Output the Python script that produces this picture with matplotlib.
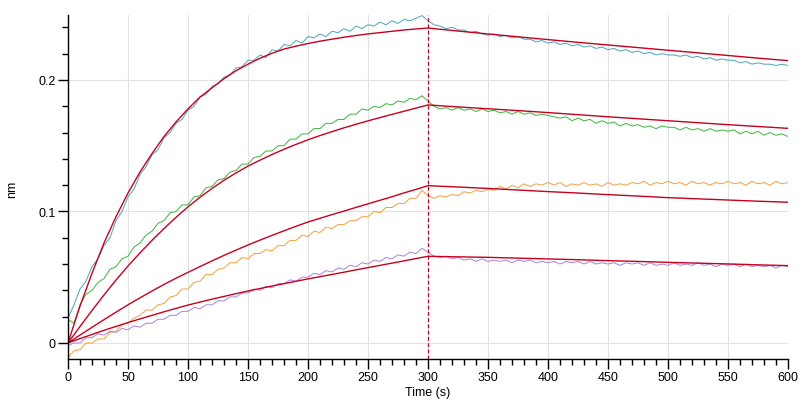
import numpy as np
import matplotlib.pyplot as plt
from matplotlib.ticker import MultipleLocator, FixedLocator

# --- trace data (nm), sampled every 5 s from 0 to 600 s ---
time = np.arange(0, 601, 5)

cyan = [0.019, 0.029, 0.041, 0.047, 0.058, 0.064, 0.074, 0.080, 0.093, 0.100,
        0.111, 0.117, 0.128, 0.134, 0.143, 0.147, 0.156, 0.160, 0.167, 0.170,
        0.177, 0.180, 0.187, 0.189, 0.195, 0.197, 0.202, 0.204, 0.209, 0.210,
        0.215, 0.215, 0.219, 0.217, 0.223, 0.222, 0.227, 0.226, 0.230, 0.228,
        0.233, 0.232, 0.235, 0.233, 0.237, 0.236, 0.239, 0.237, 0.241, 0.239,
        0.242, 0.241, 0.244, 0.242, 0.245, 0.243, 0.246, 0.245, 0.247, 0.249,
        0.245,
        0.242, 0.241, 0.239, 0.240, 0.238, 0.238, 0.236, 0.237, 0.235, 0.234,
        0.235, 0.233, 0.234, 0.232, 0.233, 0.231, 0.231, 0.229, 0.230, 0.228,
        0.229, 0.227, 0.228, 0.226, 0.227, 0.225, 0.226, 0.224, 0.225, 0.223,
        0.224, 0.222, 0.223, 0.221, 0.222, 0.220, 0.221, 0.219, 0.220, 0.219,
        0.219, 0.218, 0.219, 0.217, 0.218, 0.216, 0.217, 0.215, 0.216, 0.215,
        0.215, 0.213, 0.214, 0.212, 0.213, 0.212, 0.212, 0.211, 0.212, 0.211]

green = [0.018, 0.015, 0.029, 0.037, 0.040, 0.046, 0.049, 0.056, 0.058, 0.064,
         0.066, 0.073, 0.076, 0.082, 0.085, 0.091, 0.093, 0.099, 0.100, 0.105,
         0.105, 0.111, 0.112, 0.118, 0.119, 0.124, 0.125, 0.130, 0.131, 0.136,
         0.136, 0.141, 0.142, 0.146, 0.146, 0.150, 0.150, 0.155, 0.155, 0.159,
         0.159, 0.163, 0.163, 0.167, 0.167, 0.170, 0.170, 0.174, 0.174, 0.178,
         0.177, 0.180, 0.179, 0.182, 0.181, 0.184, 0.183, 0.186, 0.185, 0.188,
         0.184,
         0.180, 0.178, 0.179, 0.177, 0.179, 0.177, 0.178, 0.176, 0.178, 0.176,
         0.177, 0.175, 0.176, 0.174, 0.176, 0.174, 0.175, 0.173, 0.174, 0.173,
         0.172, 0.171, 0.172, 0.169, 0.171, 0.169, 0.170, 0.167, 0.169, 0.167,
         0.168, 0.165, 0.167, 0.165, 0.166, 0.164, 0.165, 0.163, 0.165, 0.164,
         0.164, 0.162, 0.164, 0.162, 0.163, 0.161, 0.163, 0.161, 0.162, 0.161,
         0.162, 0.159, 0.161, 0.159, 0.161, 0.158, 0.160, 0.158, 0.159, 0.157]

orange = [-0.011, -0.006, -0.005, 0.000, -0.000, 0.003, 0.003, 0.008, 0.009, 0.014,
          0.015, 0.019, 0.021, 0.025, 0.025, 0.029, 0.030, 0.035, 0.036, 0.041,
          0.041, 0.046, 0.047, 0.052, 0.052, 0.056, 0.057, 0.061, 0.061, 0.065,
          0.064, 0.068, 0.068, 0.071, 0.070, 0.074, 0.074, 0.078, 0.078, 0.082,
          0.081, 0.085, 0.084, 0.088, 0.087, 0.090, 0.090, 0.093, 0.093, 0.096,
          0.096, 0.100, 0.099, 0.103, 0.103, 0.106, 0.106, 0.110, 0.110, 0.116,
          0.112,
          0.110, 0.112, 0.111, 0.113, 0.112, 0.115, 0.114, 0.116, 0.115, 0.117,
          0.116, 0.119, 0.117, 0.120, 0.118, 0.121, 0.119, 0.121, 0.120, 0.122,
          0.120, 0.122, 0.119, 0.121, 0.120, 0.122, 0.120, 0.121, 0.119, 0.122,
          0.120, 0.121, 0.120, 0.122, 0.121, 0.123, 0.120, 0.122, 0.121, 0.123,
          0.121, 0.122, 0.120, 0.123, 0.121, 0.122, 0.120, 0.122, 0.121, 0.123,
          0.121, 0.122, 0.120, 0.123, 0.121, 0.122, 0.120, 0.123, 0.121, 0.122]

purple = [-0.002, 0.000, 0.000, 0.004, 0.004, 0.007, 0.006, 0.009, 0.008, 0.011,
          0.010, 0.013, 0.012, 0.015, 0.015, 0.018, 0.018, 0.021, 0.021, 0.024,
          0.024, 0.027, 0.026, 0.029, 0.029, 0.032, 0.032, 0.035, 0.035, 0.038,
          0.038, 0.041, 0.040, 0.043, 0.042, 0.045, 0.045, 0.048, 0.047, 0.050,
          0.050, 0.053, 0.052, 0.055, 0.054, 0.057, 0.056, 0.059, 0.058, 0.061,
          0.060, 0.063, 0.062, 0.065, 0.064, 0.067, 0.066, 0.069, 0.068, 0.072,
          0.069,
          0.066, 0.065, 0.066, 0.064, 0.065, 0.063, 0.064, 0.062, 0.064, 0.062,
          0.063, 0.062, 0.063, 0.061, 0.063, 0.062, 0.063, 0.061, 0.062, 0.061,
          0.062, 0.060, 0.062, 0.061, 0.062, 0.060, 0.062, 0.060, 0.061, 0.060,
          0.061, 0.059, 0.061, 0.060, 0.061, 0.059, 0.061, 0.059, 0.060, 0.059,
          0.061, 0.059, 0.060, 0.059, 0.061, 0.059, 0.060, 0.058, 0.060, 0.059,
          0.060, 0.058, 0.060, 0.058, 0.059, 0.058, 0.059, 0.057, 0.059, 0.058]

# --- fitted curves ---
fit_time = list(range(0, 301, 10)) + list(range(325, 601, 25))

fit1 = [0, 0.028, 0.053, 0.076, 0.096, 0.114, 0.130, 0.144, 0.157, 0.168,
        0.178, 0.187, 0.194, 0.201, 0.207, 0.212, 0.2165, 0.2203, 0.2235, 0.2257,
        0.2277, 0.2295, 0.231, 0.2325, 0.2338, 0.235, 0.236, 0.237, 0.238, 0.2388,
        0.2395,
        0.2372, 0.2350, 0.2328, 0.2307, 0.2286, 0.2266, 0.2246, 0.2226, 0.2206,
        0.2186, 0.2166, 0.2147]

fit2 = [0, 0.0125, 0.0247, 0.0365, 0.0478, 0.0585, 0.0685, 0.078, 0.087, 0.0955,
        0.1035, 0.1108, 0.1175, 0.1237, 0.1293, 0.1345, 0.139, 0.1433, 0.1473, 0.151,
        0.1545, 0.1577, 0.1607, 0.1636, 0.1663, 0.1689, 0.1714, 0.1738, 0.1762, 0.1786,
        0.181,
        0.1795, 0.1781, 0.1767, 0.1752, 0.1736, 0.172, 0.1705, 0.169, 0.1675,
        0.166, 0.1646, 0.1632]

fit3 = [0, 0.006, 0.0119, 0.0177, 0.0234, 0.029, 0.0343, 0.0395, 0.0445, 0.0492,
        0.0537, 0.0581, 0.0624, 0.0666, 0.0706, 0.0745, 0.0782, 0.0818, 0.0853, 0.0887,
        0.092, 0.0948, 0.0976, 0.1003, 0.1031, 0.1058, 0.1085, 0.1112, 0.1141, 0.1168,
        0.1196,
        0.1186, 0.1175, 0.1163, 0.1151, 0.1140, 0.1128, 0.1117, 0.1105, 0.1096,
        0.1087, 0.1078, 0.107]

fit4 = [0, 0.0033, 0.0065, 0.0096, 0.0126, 0.0155, 0.0183, 0.0210, 0.0237, 0.0263,
        0.0288, 0.0311, 0.0333, 0.0354, 0.0375, 0.0395, 0.0414, 0.0433, 0.0451, 0.0469,
        0.0487, 0.0504, 0.0521, 0.0538, 0.0556, 0.0573, 0.059, 0.0607, 0.0624, 0.0642,
        0.0659,
        0.0655, 0.0651, 0.0645, 0.0639, 0.0633, 0.0626, 0.062, 0.0613, 0.0607,
        0.0601, 0.0594, 0.0588]

switch_time = 300

plt.rcParams['font.family'] = ['Liberation Sans', 'DejaVu Sans']

fig = plt.figure(figsize=(8.02, 4.02), dpi=100)
ax = fig.add_axes([68 / 802, 42 / 402, 720 / 802, 344 / 402])

traces = [(cyan, '#4aa5b8'), (green, '#3cb43c'), (orange, '#f0a040'), (purple, '#a882dc')]
for vals, col in traces:
    ax.plot(time, vals, color=col, lw=0.7)

for vals in (fit1, fit2, fit3, fit4):
    ax.plot(fit_time, vals, color='#c8001e', lw=1.0)

ax.axvline(switch_time, color='#c8001e', lw=0.9, dashes=(3, 2))

ax.set_xlim(0, 600)
ax.set_ylim(-0.0122, 0.2494)

ax.xaxis.set_major_locator(MultipleLocator(50))
ax.xaxis.set_minor_locator(MultipleLocator(10))
ax.yaxis.set_major_locator(FixedLocator([0, 0.1, 0.2]))
ax.yaxis.set_minor_locator(MultipleLocator(0.02))
ax.set_yticklabels(['0', '0.1', '0.2'])

ax.grid(True, which='major', color='#e2e2e2', lw=0.8)
ax.set_axisbelow(True)

for s in ('top', 'right'):
    ax.spines[s].set_visible(False)
for s in ('left', 'bottom'):
    ax.spines[s].set_linewidth(1.0)

ax.tick_params(which='major', length=7, width=1, labelsize=9, pad=2)
ax.tick_params(which='minor', length=4, width=1)

ax.set_xlabel('Time (s)', fontsize=9, labelpad=2)
fig.text(12 / 802, 0.53, 'nm', rotation=90, fontsize=9, ha='center', va='center')

fig.savefig('out.png', dpi=100)
